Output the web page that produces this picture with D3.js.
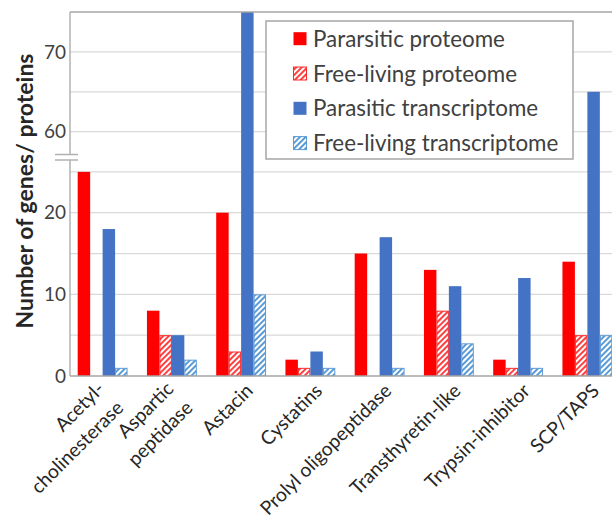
<!DOCTYPE html>
<html><head><meta charset="utf-8">
<script src="https://cdn.jsdelivr.net/npm/d3@7"></script>
<style>body{margin:0;background:#fff} svg{display:block}</style>
</head><body>
<svg id="c" width="612" height="519"></svg>
<script>
// ---- data ----
const categories = ["Acetyl-\ncholinesterase","Aspartic\npeptidase","Astacin","Cystatins","Prolyl oligopeptidase","Transthyretin-like","Trypsin-inhibitor","SCP/TAPS"];
const seriesNames = ["Pararsitic proteome","Free-living proteome","Parasitic transcriptome","Free-living transcriptome"];
const parasiticProteome      = [25, 8, 20, 2, 15, 13, 2, 14];
const freeLivingProteome     = [0, 5, 3, 1, 0, 8, 1, 5];
const parasiticTranscriptome = [18, 5, 78, 3, 17, 11, 12, 65];
const freeLivingTranscriptome= [1, 2, 10, 1, 1, 4, 1, 5];
const yTickValues = [0, 10, 20, 60, 70];
const yGridValues = [5, 10, 15, 20, 25, 60, 65, 70];
const yTitle = "Number of genes/ proteins";

const series = [parasiticProteome, freeLivingProteome, parasiticTranscriptome, freeLivingTranscriptome];
const styles = [
  {fill:"#ff0000", stroke:null},
  {fill:"url(#hatchRed)", stroke:"#ff2a2a"},
  {fill:"#4472c4", stroke:null},
  {fill:"url(#hatchBlue)", stroke:"#5b9bd5"}
];

const FONT = "Lato, 'Open Sans', sans-serif";
const svg = d3.select("#c");
const pLeft = 70, pTop = 12, pBottom = 376, pRight = 612;

// defs
const defs = svg.append("defs");
function hatch(id, color){
  const p = defs.append("pattern").attr("id", id).attr("patternUnits","userSpaceOnUse")
    .attr("width",4).attr("height",4).attr("patternTransform","rotate(45)");
  p.append("rect").attr("width",4).attr("height",4).attr("fill","#fff");
  p.append("rect").attr("width",2).attr("height",4).attr("fill",color);
}
hatch("hatchRed", "#ff4040");
hatch("hatchBlue", "#5b9bd5");
defs.append("clipPath").attr("id","plotClip").append("rect")
  .attr("x",pLeft).attr("y",pTop).attr("width",pRight-pLeft).attr("height",pBottom-pTop);

// measurement helper
function fitSize(str, target, weight){
  const t = svg.append("text").attr("font-family",FONT).attr("font-size",20)
    .attr("font-weight",weight||"normal").text(str);
  const len = t.node().getComputedTextLength();
  t.remove();
  return 20*target/len;
}

// scales
const x = d3.scaleBand().domain(categories).range([68, 622]).paddingInner(0.28).paddingOuter(0.14);
const xs = d3.scaleBand().domain(d3.range(series.length)).range([0, x.bandwidth()]);
const y = d3.scaleLinear().domain([0, 26.7, 56.7, 75]).range([pBottom, 158, 158, pTop]);

// gridlines
svg.append("g").selectAll("line").data(yGridValues).join("line")
  .attr("x1",pLeft).attr("x2",pRight).attr("y1",d=>y(d)).attr("y2",d=>y(d))
  .attr("stroke","#d9d9d9").attr("stroke-width",1.3);

// bars
const gBars = svg.append("g").attr("clip-path","url(#plotClip)");
series.forEach((vals, si)=>{
  const st = styles[si];
  gBars.append("g").selectAll("rect").data(vals.map((v,i)=>({v, c:categories[i]})).filter(d=>d.v>0))
    .join("rect")
    .attr("x", d=> x(d.c)+xs(si) + (st.stroke?0.5:0))
    .attr("width", xs.bandwidth() - (st.stroke?1:0))
    .attr("y", d=> y(d.v) + (st.stroke?0.5:0))
    .attr("height", d=> y(0)-y(d.v) - (st.stroke?0.5:0))
    .attr("fill", st.fill)
    .attr("stroke", st.stroke)
    .attr("stroke-width", st.stroke?1:0);
});

// axes lines
svg.append("line").attr("x1",pLeft).attr("x2",pRight).attr("y1",pTop).attr("y2",pTop)
  .attr("stroke","#a6a6a6").attr("stroke-width",1.3);
svg.append("line").attr("x1",pLeft).attr("x2",pLeft).attr("y1",pTop).attr("y2",pBottom)
  .attr("stroke","#a6a6a6").attr("stroke-width",1.3);
svg.append("line").attr("x1",pLeft).attr("x2",pRight).attr("y1",pBottom).attr("y2",pBottom)
  .attr("stroke","#a6a6a6").attr("stroke-width",1.5);

// axis break
svg.append("rect").attr("x",54).attr("y",155).attr("width",26).attr("height",5).attr("fill","#fff");
[154.5, 160].forEach(yy=>{
  svg.append("line").attr("x1",55).attr("x2",78).attr("y1",yy).attr("y2",yy)
    .attr("stroke","#b0b0b0").attr("stroke-width",1.5);
});

// y tick labels
const tickSize = fitSize("70", 22);
svg.append("g").selectAll("text").data(yTickValues).join("text")
  .attr("x", 66).attr("y", d=>y(d)).attr("dy","0.35em")
  .attr("text-anchor","end").attr("font-family",FONT).attr("font-size",tickSize)
  .attr("fill","#404040").text(d=>d);

// y title
const ytSize = fitSize(yTitle, 275, "bold");
svg.append("text").attr("transform","translate(33,191) rotate(-90)")
  .attr("text-anchor","middle").attr("font-family",FONT).attr("font-weight","bold")
  .attr("font-size",ytSize).attr("fill","#262626").text(yTitle);

// x labels
const xlSize = fitSize("Prolyl oligopeptidase", 176);
const gX = svg.append("g");
categories.forEach(c=>{
  const cx = x(c) + x.bandwidth()/2;
  const lines = c.split("\n");
  lines.forEach((ln, li)=>{
    let px, py;
    if(lines.length===1){ px = cx+13; py = 392; }
    else { px = cx+3 + li*19; py = 390 + li*19; }
    gX.append("text").attr("transform",`translate(${px},${py}) rotate(-45)`)
      .attr("text-anchor","end").attr("font-family",FONT).attr("font-size",xlSize)
      .attr("fill","#262626").text(ln);
  });
});

// legend
const lg = svg.append("g");
lg.append("rect").attr("x",266).attr("y",21).attr("width",307).attr("height",138)
  .attr("fill","#fff").attr("stroke","#a6a6a6").attr("stroke-width",1.5);
const lgSize = fitSize(seriesNames[0], 192);
const rowY = d3.scalePoint().domain(seriesNames).range([38.7, 143.1]);
seriesNames.forEach((n, i)=>{
  const st = styles[i];
  const cy = rowY(n);
  lg.append("rect").attr("x",293.5).attr("y",cy-6.5).attr("width",13).attr("height",13)
    .attr("fill",st.fill).attr("stroke",st.stroke).attr("stroke-width",st.stroke?1:0);
  lg.append("text").attr("x",313).attr("y",cy).attr("dy","0.36em")
    .attr("font-family",FONT).attr("font-size",lgSize).attr("fill","#404040").text(n);
});
</script>
</body></html>
